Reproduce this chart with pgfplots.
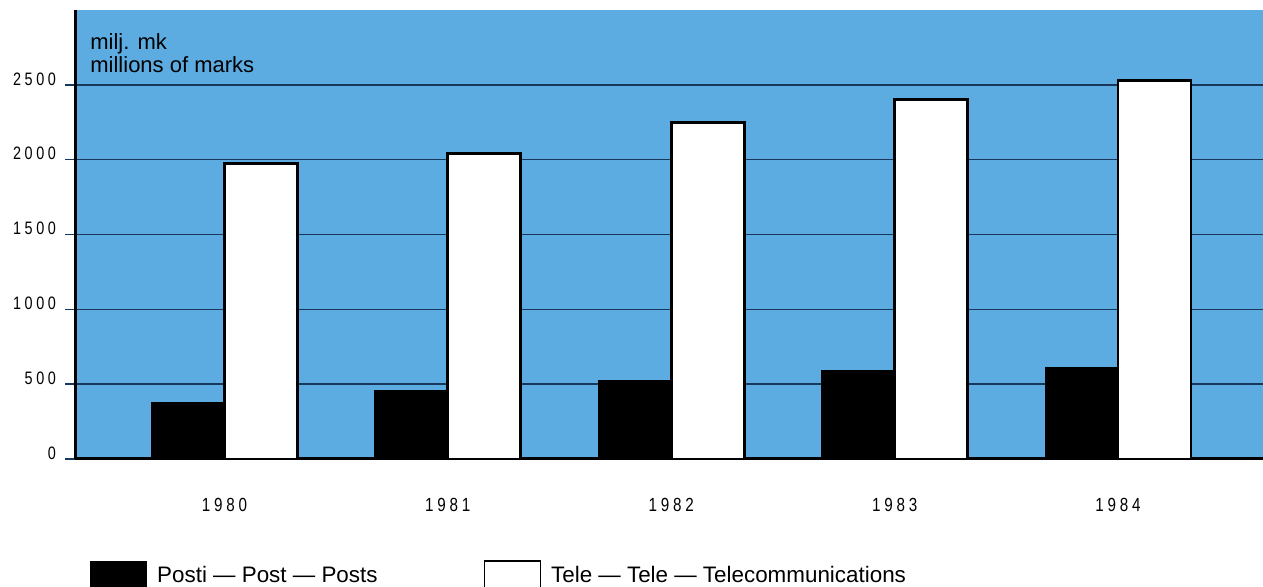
\documentclass[border=0pt]{standalone}
\usepackage{fontspec}
\setmainfont{Liberation Sans}
\newfontfamily\tickfont[FakeStretch=0.8,LetterSpace=20]{Liberation Sans}
\usepackage{pgfplots}
\pgfplotsset{compat=1.18}
\usepackage{pgfplotstable}
\definecolor{skyblue}{RGB}{92,172,226}
\definecolor{gridcol}{RGB}{25,55,90}
\pgfplotstableread{
x posti tele
0 380 1975
1 455 2040
2 525 2250
3 590 2400
4 610 2530
}\datatable
\begin{document}
\begin{tikzpicture}
\useasboundingbox (-37.5pt,-64pt) rectangle (594pt,229.5pt);
\begin{axis}[
  at={(0,0)}, anchor=south west,
  scale only axis, width=594pt, height=224.5pt,
  xmin=-0.669, xmax=4.649, ymin=0, ymax=3000,
  axis x line*=bottom, axis y line*=left,
  axis line style={-, line width=1.5pt, black},
  axis background/.style={fill=skyblue},
  xtick={0,1,2,3,4},
  xticklabels={1980,1981,1982,1983,1984},
  xtick style={draw=none},
  xticklabel style={font=\tickfont\fontsize{9.5}{10}\selectfont, yshift=-11pt},
  ytick={0,500,1000,1500,2000,2500},
  yticklabels={0,500,1000,1500,2000,2500},
  ytick style={draw=gridcol, line width=0.7pt},
  tick align=outside, major tick length=5pt,
  yticklabel style={font=\tickfont\fontsize{9}{10}\selectfont, yshift=3pt, xshift=-1pt},
  ymajorgrids, grid style={gridcol, line width=0.7pt},
  ybar, bar width=36.5pt,
  legend columns=2,
  legend style={at={(0,0)}, anchor=north west, xshift=7.5pt, yshift=-50.5pt,
    draw=none, fill=none, inner sep=0pt,
    font=\fontsize{11.2}{13}\selectfont,
    /tikz/every even column/.append style={column sep=51pt},
    /tikz/every odd column/.append style={column sep=3pt}},
]
\addplot[fill=black, draw=black, bar shift=-18.25pt,
  legend image code/.code={\fill[black] (0pt,-14pt) rectangle (28pt,7.5pt);}]
  table[x=x, y=posti] {\datatable};
\addlegendentry{Posti — Post — Posts}
\addplot[fill=white, draw=black, line width=1.4pt, bar shift=18.25pt,
  legend image code/.code={\draw[black, line width=0.8pt, fill=white] (0pt,-14pt) rectangle (28pt,7.5pt);}]
  table[x=x, y=tele] {\datatable};
\addlegendentry{Tele — Tele — Telecommunications}
\node[anchor=north west, align=left, inner sep=0pt, font=\fontsize{11}{11.5}\selectfont]
  at ([xshift=7.5pt, yshift=-11.5pt]rel axis cs:0,1) {milj. mk\\millions of marks};
\end{axis}
\end{tikzpicture}
\end{document}
